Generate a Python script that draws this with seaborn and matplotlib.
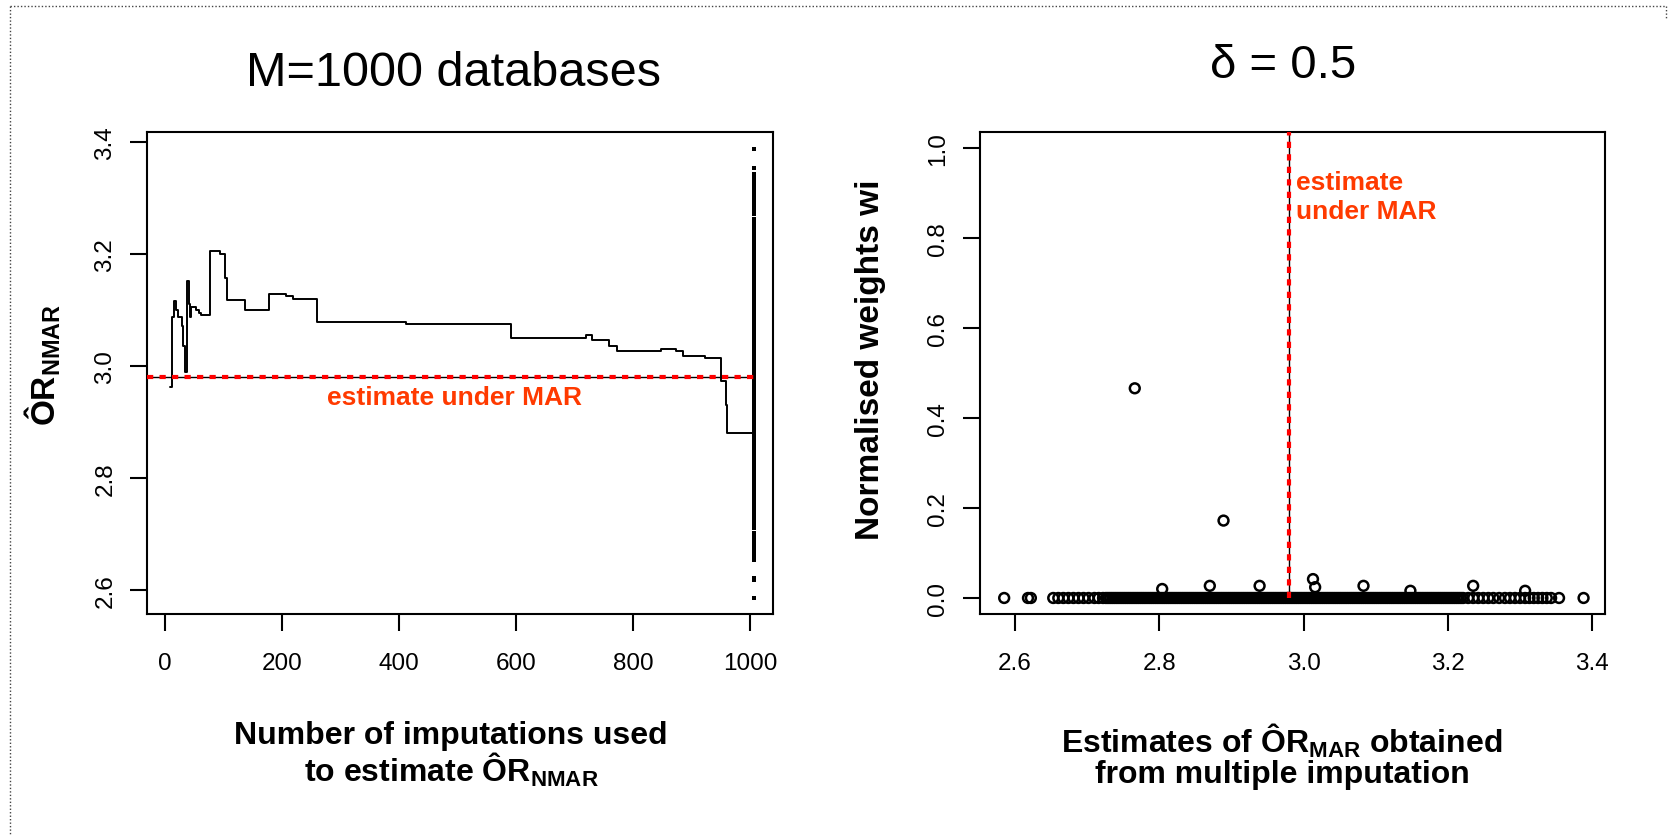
import matplotlib
matplotlib.use('Agg')
import matplotlib.pyplot as plt
from matplotlib.lines import Line2D
import pandas as pd
import seaborn as sns

# running estimate of OR_NMAR against number of imputations (step breakpoints)
n_imp = [8, 12, 16, 18, 22, 28, 31, 34, 37, 40,
         42, 45, 52, 58, 62, 76, 93, 102, 106, 137,
         178, 206, 219, 259, 412, 591, 719, 729, 759, 772,
         847, 873, 886, 922, 950, 958, 961, 1006]
or_nmar = [2.962, 3.088, 3.117, 3.100, 3.087, 3.071, 3.036, 2.989, 3.152, 3.110,
           3.087, 3.105, 3.100, 3.094, 3.091, 3.205, 3.200, 3.157, 3.118, 3.100,
           3.128, 3.125, 3.120, 3.079, 3.075, 3.050, 3.055, 3.046, 3.035, 3.026,
           3.030, 3.026, 3.018, 3.014, 2.973, 2.930, 2.880, 2.880]

# OR_MAR estimates from the M imputed databases (read off the strip / x axis)
est_low = [2.585, 2.618, 2.622, 2.653, 2.660, 2.667, 2.674, 2.681, 2.688, 2.695,
           2.702, 2.710, 2.716, 2.722]
est_core = [2.726, 2.729, 2.732, 2.735, 2.738, 2.741, 2.744, 2.747, 2.750, 2.753,
            2.756, 2.759, 2.762, 2.765, 2.768, 2.771, 2.774, 2.777, 2.780, 2.783,
            2.786, 2.789, 2.792, 2.795, 2.798, 2.801, 2.804, 2.807, 2.810, 2.813,
            2.816, 2.819, 2.822, 2.825, 2.828, 2.831, 2.834, 2.837, 2.840, 2.843,
            2.846, 2.849, 2.852, 2.855, 2.858, 2.861, 2.864, 2.867, 2.870, 2.873,
            2.876, 2.879, 2.882, 2.885, 2.888, 2.891, 2.894, 2.897, 2.900, 2.903,
            2.906, 2.909, 2.912, 2.915, 2.918, 2.921, 2.924, 2.927, 2.930, 2.933,
            2.936, 2.939, 2.942, 2.945, 2.948, 2.951, 2.954, 2.957, 2.960, 2.963,
            2.966, 2.969, 2.972, 2.975, 2.978, 2.981, 2.984, 2.987, 2.990, 2.993,
            2.996, 2.999, 3.002, 3.005, 3.008, 3.011, 3.014, 3.017, 3.020, 3.023,
            3.026, 3.029, 3.032, 3.035, 3.038, 3.041, 3.044, 3.047, 3.050, 3.053,
            3.056, 3.059, 3.062, 3.065, 3.068, 3.071, 3.074, 3.077, 3.080, 3.083,
            3.086, 3.089, 3.092, 3.095, 3.098, 3.101, 3.104, 3.107, 3.110, 3.113,
            3.116, 3.119, 3.122, 3.125, 3.128, 3.131, 3.134, 3.137, 3.140, 3.143,
            3.146, 3.149, 3.152, 3.155, 3.158, 3.161, 3.164, 3.167, 3.170, 3.173,
            3.176, 3.179, 3.182, 3.185, 3.188, 3.191, 3.194, 3.197, 3.200, 3.203,
            3.206, 3.209, 3.212, 3.215, 3.218, 3.221]
est_high = [3.228, 3.235, 3.242, 3.249, 3.256, 3.263, 3.271, 3.279, 3.286, 3.293,
            3.300, 3.307, 3.313, 3.319, 3.325, 3.331, 3.337, 3.343, 3.354, 3.388]

# estimates that carry a visible (non-zero) normalised weight
est_weighted = [2.766, 2.889, 2.804, 2.870, 2.939, 3.013, 3.016, 3.083, 3.148, 3.235, 3.307]
w_weighted = [0.466, 0.172, 0.020, 0.027, 0.027, 0.042, 0.024, 0.027, 0.016, 0.027, 0.016]

mar_estimate = 2.98
strip_at = 1006   # where all M estimates are stacked on the left panel

left_xticks = [0, 200, 400, 600, 800, 1000]
left_yticks = [2.6, 2.8, 3.0, 3.2, 3.4]
right_xticks = [2.6, 2.8, 3.0, 3.2, 3.4]
right_yticks = [0.0, 0.2, 0.4, 0.6, 0.8, 1.0]

sns.set_style("ticks")
plt.rcParams['font.family'] = ['Liberation Sans', 'DejaVu Sans']
plt.rcParams['mathtext.fontset'] = 'custom'
plt.rcParams['mathtext.rm'] = 'Liberation Sans'
plt.rcParams['mathtext.bf'] = 'Liberation Sans:bold'
plt.rcParams['mathtext.it'] = 'Liberation Sans:italic'
plt.rcParams['text.color'] = 'black'
plt.rcParams['axes.labelcolor'] = 'black'

W, H = 1671, 837
fig = plt.figure(figsize=(W / 100, H / 100), dpi=100)
fig.patch.set_facecolor('white')

def px_axes(l, t, r, b):
    return fig.add_axes([l / W, 1 - b / H, (r - l) / W, (b - t) / H])

axL = px_axes(147, 133, 773, 615)
axR = px_axes(980, 133, 1605, 615)

red = '#FF0000'
text_red = '#FF3A00'

all_est = est_low + est_core + est_high + est_weighted

# ---- left panel
sns.lineplot(x=n_imp, y=or_nmar, drawstyle='steps-post', color='black', lw=1.4,
             sort=False, estimator=None, ax=axL)
sns.scatterplot(x=[strip_at] * len(all_est), y=all_est, marker='s', s=11,
                color='black', linewidth=0, ax=axL)
axL.hlines(mar_estimate, -31, strip_at, color='black', lw=1.0, zorder=4)
axL.hlines(mar_estimate, -31, strip_at, color=red, lw=3.0, linestyles=(0, (1.5, 1.5)), zorder=5)
axL.text(494, 2.945, 'estimate under MAR', color=text_red, fontsize=19,
         fontweight='bold', ha='center', va='center')
axL.set_xlim(-31, 1039)
axL.set_ylim(2.557, 3.418)
axL.set_xticks(left_xticks)
axL.set_xticklabels([str(v) for v in left_xticks])
axL.set_yticks(left_yticks)
axL.set_yticklabels([f'{v:.1f}' for v in left_yticks])

# ---- right panel
df = pd.DataFrame({
    'est': est_low + est_core + est_high + est_weighted,
    'w': [0.0] * len(est_low + est_core + est_high) + w_weighted,
})
sns.scatterplot(data=df, x='est', y='w', marker='o', s=50, fc='none', ec='black',
                linewidth=1.8, ax=axR)
axR.vlines(mar_estimate, 0, 1.04, color='black', lw=1.0, zorder=4)
axR.vlines(mar_estimate, 0, 1.04, color=red, lw=3.0, linestyles=(0, (1.5, 1.5)), zorder=5)
axR.text(2.989, 0.952, 'estimate\nunder MAR', color=text_red, fontsize=19,
         fontweight='bold', ha='left', va='top', linespacing=1.3)
axR.set_xlim(2.5515, 3.4177)
axR.set_ylim(-0.0356, 1.0356)
axR.set_xticks(right_xticks)
axR.set_xticklabels([f'{v:.1f}' for v in right_xticks])
axR.set_yticks(right_yticks)
axR.set_yticklabels([f'{v:.1f}' for v in right_yticks])

for ax in (axL, axR):
    for sp in ax.spines.values():
        sp.set_linewidth(1.5)
        sp.set_color('black')
    ax.tick_params(axis='both', length=12, width=1.5, color='black',
                   labelsize=17.5, labelcolor='black')
    ax.tick_params(axis='x', pad=15)
    ax.tick_params(axis='y', pad=10, labelrotation=90)
    for lab in ax.get_yticklabels():
        lab.set_va('center')

# axis labels
xlab_kw = dict(fontsize=23, fontweight='bold', color='black')
ylab_kw = dict(fontsize=24, fontweight='bold', color='black')
axL.set_xlabel('Number of imputations used\nto estimate Ô$\\mathbf{R}_{\\mathbf{NMAR}}$',
               linespacing=1.0, **xlab_kw)
axL.xaxis.set_label_coords(0.4856, -0.2190)
axL.set_ylabel('Ô$\\mathbf{R}_{\\mathbf{NMAR}}$', **ylab_kw)
axL.yaxis.set_label_coords(-0.134, 0.5187)

axR.set_xlabel('Estimates of Ô$\\mathbf{R}_{\\mathbf{MAR}}$ obtained\nfrom multiple imputation',
               linespacing=1.0, **xlab_kw)
axR.xaxis.set_label_coords(0.4832, -0.2220)
axR.set_ylabel('Normalised weights wi', **ylab_kw)
axR.yaxis.set_label_coords(-0.150, 0.529)

# titles
axL.set_title('M=1000 databases', fontsize=35, x=0.4904, y=(615 - 86) / 482, pad=0)
axR.set_title('δ = 0.5', fontsize=34, x=0.4848, y=(615 - 78) / 482, pad=0)

# dotted frame of the slide
frame_kw = dict(color='#444444', lw=1.0, linestyle=(0, (1, 1.5)), transform=fig.transFigure)
fig.add_artist(Line2D([10 / W, 1666 / W], [1 - 7 / H, 1 - 7 / H], **frame_kw))
fig.add_artist(Line2D([10 / W, 10 / W], [1 - 7 / H, 0], **frame_kw))
fig.add_artist(Line2D([1666 / W, 1666 / W], [1 - 7 / H, 1 - 20 / H], **frame_kw))

fig.savefig('out.png', dpi=100, facecolor='white')
